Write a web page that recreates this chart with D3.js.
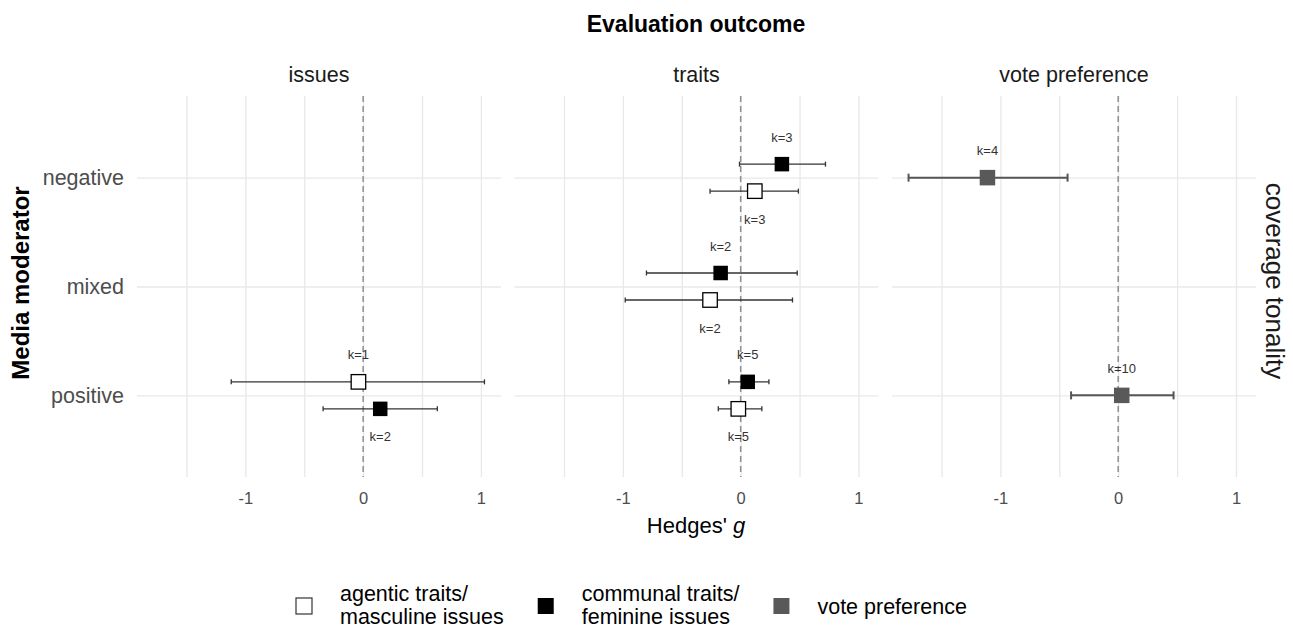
<!DOCTYPE html>
<html>
<head>
<meta charset="utf-8">
<script src="https://cdn.jsdelivr.net/npm/d3@7"></script>
<style>
  body { margin: 0; background: #fff; }
  svg { font-family: "Liberation Sans", Arial, Helvetica, sans-serif; }
</style>
</head>
<body>
<div id="chart"></div>
<script>
// facets, rows and legend
var outcomes = ["issues", "traits", "vote preference"];
var tones = ["negative", "mixed", "positive"];
var groups = ["agentic", "communal", "vote"];
var legendLabels = [["agentic traits/", "masculine issues"], ["communal traits/", "feminine issues"], ["vote preference"]];
var gridTicks = [-1.5, -1, -0.5, 0, 0.5, 1];
var labelTicks = [-1, 0, 1];

// one entry per estimate
var ptOutcome = ["issues", "issues", "traits", "traits", "traits", "traits", "traits", "traits", "vote preference", "vote preference"];
var ptTone = ["positive", "positive", "negative", "negative", "mixed", "mixed", "positive", "positive", "negative", "positive"];
var ptGroup = ["agentic", "communal", "communal", "agentic", "communal", "agentic", "communal", "agentic", "vote", "vote"];
var ptSlot = [-1, 1, -1, 1, -1, 1, -1, 1, 0, 0];
var ptEst = [-0.04, 0.145, 0.35, 0.12, -0.17, -0.26, 0.06, -0.02, -1.11, 0.03];
var ptLow = [-1.12, -0.34, -0.01, -0.26, -0.80, -0.98, -0.10, -0.19, -1.78, -0.40];
var ptHigh = [1.03, 0.63, 0.72, 0.49, 0.48, 0.44, 0.24, 0.18, -0.43, 0.47];
var ptK = [1, 2, 3, 3, 2, 2, 5, 5, 4, 10];

var points = ptEst.map(function(d, i) {
  return { outcome: ptOutcome[i], tone: ptTone[i], group: ptGroup[i], slot: ptSlot[i],
           est: d, low: ptLow[i], high: ptHigh[i], k: ptK[i] };
});

var svgWidth = 1293, svgHeight = 629;
var plotTop = 96, plotBottom = 477;

var svg = d3.select("#chart").append("svg")
  .attr("width", svgWidth)
  .attr("height", svgHeight);

// panel positions
var panel = d3.scaleBand().domain(outcomes).range([137, 1256]).paddingInner(0.036);
var pw = panel.bandwidth();

var x = d3.scaleLinear().domain([-1.92, 1.17]).range([0, pw]);
var y = d3.scalePoint().domain(tones).range([plotTop, plotBottom]).padding(0.75);
var dodge = d3.scaleLinear().domain([-1, 1]).range([-13.5, 13.5]);

var fill = d3.scaleOrdinal().domain(groups).range(["#ffffff", "#000000", "#595959"]);

// title
svg.append("text")
  .attr("x", 696)
  .attr("y", 32)
  .attr("text-anchor", "middle")
  .style("font-weight", "bold")
  .style("font-size", "23px")
  .attr("fill", "#000")
  .text("Evaluation outcome");

outcomes.forEach(function(o, pi) {
  var g = svg.append("g").attr("transform", "translate(" + panel(o) + ",0)");

  // strip label
  g.append("text")
    .attr("x", pw / 2)
    .attr("y", 82)
    .attr("text-anchor", "middle")
    .style("font-size", "21.5px")
    .attr("fill", "#1a1a1a")
    .text(o);

  // vertical grid
  var vg = g.append("g")
    .attr("transform", "translate(0," + plotBottom + ")")
    .call(d3.axisBottom(x).tickValues(gridTicks).tickSize(-(plotBottom - plotTop)).tickFormat(""));
  vg.select(".domain").remove();
  vg.selectAll("line").attr("stroke", "#e8e8e8").attr("stroke-width", 1.3);

  // horizontal grid
  var hg = g.append("g")
    .call(d3.axisLeft(y).tickSize(-pw).tickFormat(""));
  hg.select(".domain").remove();
  hg.selectAll("line").attr("stroke", "#e8e8e8").attr("stroke-width", 1.3);

  // zero line
  g.append("line")
    .attr("x1", x(0)).attr("x2", x(0))
    .attr("y1", plotTop).attr("y2", plotBottom)
    .attr("stroke", "#8f8f8f")
    .attr("stroke-width", 1.5)
    .attr("stroke-dasharray", "6,4");

  // tick labels
  var xa = g.append("g")
    .attr("transform", "translate(0," + plotBottom + ")")
    .call(d3.axisBottom(x).tickValues(labelTicks).tickSize(0).tickPadding(15)
      .tickFormat(function(d) { return String(d); }));
  xa.select(".domain").remove();
  xa.attr("font-size", null).attr("font-family", null);
  xa.selectAll("text")
    .style("font-size", "16.5px")
    .attr("fill", "#4d4d4d");

  if (pi === 0) {
    var ya = g.append("g")
      .call(d3.axisLeft(y).tickSize(0).tickPadding(13));
    ya.select(".domain").remove();
    ya.attr("font-size", null).attr("font-family", null);
    ya.selectAll("text")
      .style("font-size", "21.5px")
      .attr("fill", "#4d4d4d");
  }

  var pts = points.filter(function(d) { return d.outcome === o; });

  var bars = g.selectAll(".bar")
    .data(pts)
    .enter()
    .append("g")
    .attr("class", "bar")
    .attr("transform", function(d) { return "translate(0," + (y(d.tone) + dodge(d.slot)) + ")"; });

  bars.each(function(d) {
    var b = d3.select(this);
    var col = d.group === "vote" ? "#555555" : "#333333";
    var sw = d.group === "vote" ? 2 : 1.3;
    var cap = d.group === "vote" ? 4 : 2.5;
    b.append("line")
      .attr("x1", x(d.low)).attr("x2", x(d.high))
      .attr("stroke", col).attr("stroke-width", sw);
    [d.low, d.high].forEach(function(v) {
      b.append("line")
        .attr("x1", x(v)).attr("x2", x(v))
        .attr("y1", -cap).attr("y2", cap)
        .attr("stroke", col).attr("stroke-width", sw);
    });
    var s = d.group === "vote" ? 15.5 : 14.5;
    b.append("rect")
      .attr("x", x(d.est) - s / 2)
      .attr("y", -s / 2)
      .attr("width", s)
      .attr("height", s)
      .attr("fill", fill(d.group))
      .attr("stroke", d.group === "agentic" ? "#000" : "none")
      .attr("stroke-width", 1.3);
    b.append("text")
      .attr("x", x(d.est))
      .attr("y", d.slot > 0 ? 32.5 : -22.5)
      .attr("text-anchor", "middle")
      .style("font-size", "13px")
      .attr("fill", "#333")
      .text("k=" + d.k);
  });
});

// axis titles
var xt = svg.append("text")
  .attr("x", 696)
  .attr("y", 533)
  .attr("text-anchor", "middle")
  .style("font-size", "22px")
  .attr("fill", "#000");
xt.append("tspan").text("Hedges' ");
xt.append("tspan").style("font-style", "italic").text("g");

svg.append("text")
  .attr("transform", "translate(29,283) rotate(-90)")
  .attr("text-anchor", "middle")
  .style("font-weight", "bold")
  .style("font-size", "24px")
  .attr("fill", "#000")
  .text("Media moderator");

svg.append("text")
  .attr("transform", "translate(1266,281) rotate(90)")
  .attr("text-anchor", "middle")
  .style("font-size", "26px")
  .attr("fill", "#1a1a1a")
  .text("coverage tonality");

// legend: two-line labels become two stacked texts
var legend = svg.append("g").attr("transform", "translate(296,606)");
var lx = 0;
groups.forEach(function(gname, i) {
  var item = legend.append("g").attr("transform", "translate(" + lx + ",0)");
  item.append("rect")
    .attr("x", 0).attr("y", -8)
    .attr("width", 16).attr("height", 16)
    .attr("fill", fill(gname))
    .attr("stroke", gname === "agentic" ? "#333" : "none")
    .attr("stroke-width", 1.2);
  var lines = legendLabels[i];
  var w = 0;
  lines.forEach(function(l, j) {
    var t = item.append("text")
      .attr("x", 44)
      .attr("y", lines.length === 1 ? 8 : (j === 0 ? -5 : 18))
      .style("font-size", "21.5px")
      .attr("fill", "#000")
      .text(l);
    w = Math.max(w, t.node().getComputedTextLength());
  });
  lx += 44 + w + 34;
});
</script>
</body>
</html>
